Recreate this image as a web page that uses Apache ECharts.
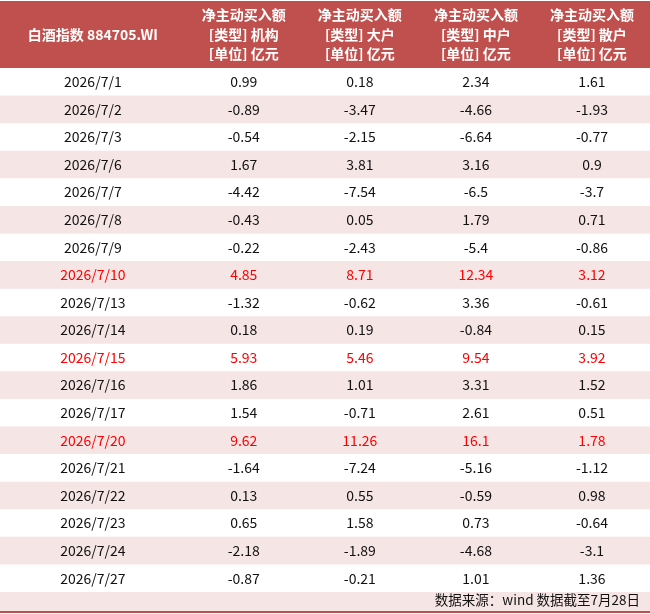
<!DOCTYPE html>
<html>
<head>
<meta charset="utf-8">
<script src="https://cdn.jsdelivr.net/npm/echarts@6/dist/echarts.min.js"></script>
<style>
  html, body { margin: 0; padding: 0; background: #fff; }
  #main { width: 650px; height: 614px; }
</style>
</head>
<body>
<div id="main"></div>
<script>
// header labels
const headers = [
    '白酒指数 884705.WI',
    '净主动买入额\n[类型] 机构\n[单位] 亿元',
    '净主动买入额\n[类型] 大户\n[单位] 亿元',
    '净主动买入额\n[类型] 中户\n[单位] 亿元',
    '净主动买入额\n[类型] 散户\n[单位] 亿元'
];
const dates = ['2026/7/1', '2026/7/2', '2026/7/3', '2026/7/6', '2026/7/7', '2026/7/8', '2026/7/9',
    '2026/7/10', '2026/7/13', '2026/7/14', '2026/7/15', '2026/7/16', '2026/7/17', '2026/7/20',
    '2026/7/21', '2026/7/22', '2026/7/23', '2026/7/24', '2026/7/27'];
const institution = [0.99, -0.89, -0.54, 1.67, -4.42, -0.43, -0.22, 4.85, -1.32, 0.18, 5.93, 1.86, 1.54, 9.62, -1.64, 0.13, 0.65, -2.18, -0.87];
const large = [0.18, -3.47, -2.15, 3.81, -7.54, 0.05, -2.43, 8.71, -0.62, 0.19, 5.46, 1.01, -0.71, 11.26, -7.24, 0.55, 1.58, -1.89, -0.21];
const medium = [2.34, -4.66, -6.64, 3.16, -6.5, 1.79, -5.4, 12.34, 3.36, -0.84, 9.54, 3.31, 2.61, 16.1, -5.16, -0.59, 0.73, -4.68, 1.01];
const retail = [1.61, -1.93, -0.77, 0.9, -3.7, 0.71, -0.86, 3.12, -0.61, 0.15, 3.92, 1.52, 0.51, 1.78, -1.12, 0.98, -0.64, -3.1, 1.36];
const highlightDates = ['2026/7/10', '2026/7/15', '2026/7/20'];
const footNote = '数据来源：wind 数据截至7月28日';

// column edges in axis units (first column wider)
const colEdges = [0, 1.6, 2.6, 3.6, 4.6, 5.6];
const colCenters = colEdges.slice(0, -1).map((e, i) => (e + colEdges[i + 1]) / 2);

const HEAD_RED = '#c0504d';
const STRIPE = '#f6e5e5';
const FONT = '"Noto Sans CJK SC", "Noto Sans", sans-serif';

var myChart = echarts.init(document.getElementById('main'));

function rowItem(params, api, cells, opt) {
    const row = api.value(1);
    const c = api.coord([0, row]);
    const h = api.size([0, 1])[1];
    const x0 = api.coord([colEdges[0], row])[0];
    const x1 = api.coord([colEdges[colEdges.length - 1], row])[0];
    const children = [];
    if (opt.bg) {
        children.push({
            type: 'rect',
            shape: { x: x0, y: c[1] - h / 2, width: x1 - x0, height: h },
            style: { fill: opt.bg }
        });
    }
    cells.forEach((txt, i) => {
        children.push({
            type: 'text',
            x: api.coord([colCenters[i], row])[0],
            y: c[1] + (opt.dy || 0),
            style: {
                text: txt,
                fill: opt.color,
                font: opt.font,
                lineHeight: opt.lineHeight,
                align: 'center',
                verticalAlign: 'middle'
            }
        });
    });
    return { type: 'group', children: children };
}

const bodyData = dates.map((d, i) => [0, i, institution[i], large[i], medium[i], retail[i]]);

const _ = {
    animation: false,
    grid: [
        { left: 0, right: 0, top: 1, height: 67 },
        { left: 0, right: 0, top: 68, height: 524 }
    ],
    xAxis: [0, 1].map(g => ({
        type: 'value', gridIndex: g, min: 0, max: 5.6, show: false
    })),
    yAxis: [
        { type: 'category', gridIndex: 0, data: ['header'], show: false },
        { type: 'category', gridIndex: 1, data: dates, inverse: true, show: false }
    ],
    series: [
        {
            type: 'custom',
            xAxisIndex: 0,
            yAxisIndex: 0,
            clip: false,
            data: [[0, 0]],
            renderItem: (params, api) => rowItem(params, api, headers, {
                bg: HEAD_RED,
                color: '#fff',
                font: 'bold 14px ' + FONT,
                lineHeight: 19.5
            })
        },
        {
            type: 'custom',
            xAxisIndex: 1,
            yAxisIndex: 1,
            clip: false,
            data: bodyData,
            renderItem: (params, api) => {
                const i = params.dataIndex;
                const hot = highlightDates.indexOf(dates[i]) > -1;
                const cells = [dates[i], String(institution[i]), String(large[i]), String(medium[i]), String(retail[i])];
                return rowItem(params, api, cells, {
                    bg: i % 2 === 1 ? STRIPE : null,
                    color: hot ? '#ff0000' : '#111',
                    font: '14px ' + FONT,
                    lineHeight: 18
                });
            }
        }
    ],
    graphic: [
        { type: 'rect', left: 0, top: 592, shape: { width: 650, height: 19 }, style: { fill: STRIPE } },
        { type: 'rect', left: 0, top: 611, shape: { width: 650, height: 2 }, style: { fill: HEAD_RED } },
        {
            type: 'text', right: 10, top: 593,
            style: { text: footNote, fill: '#111', font: '13.5px ' + FONT }
        }
    ]
};
myChart.setOption(_, true);
</script>
</body>
</html>
